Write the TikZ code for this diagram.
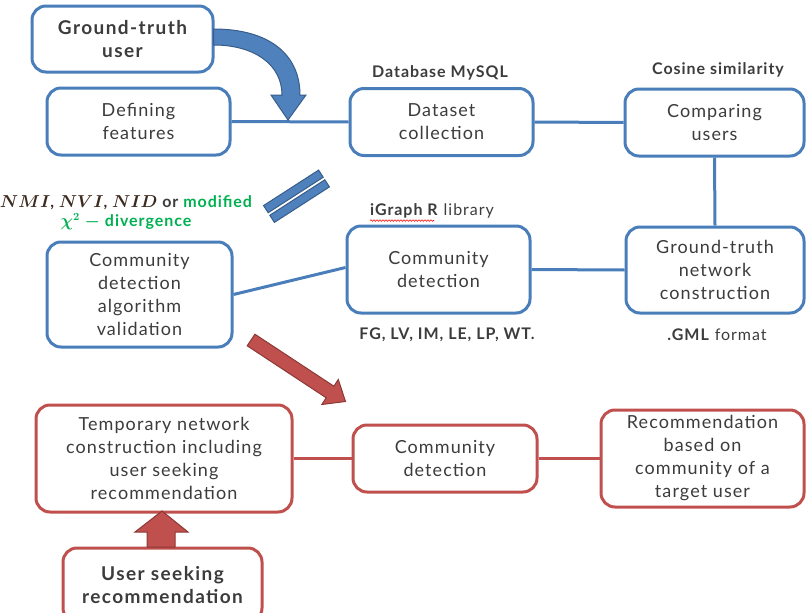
\documentclass[tikz,border=0pt]{standalone}
\usepackage{fontspec}
\setmainfont{Lato}[LetterSpace=6]
\usepackage{bm}
\usetikzlibrary{decorations.pathmorphing}
\definecolor{bl}{HTML}{4A7EBB}
\definecolor{blfill}{HTML}{4F81BD}
\definecolor{bldark}{HTML}{385D8A}
\definecolor{rd}{HTML}{C0504D}
\definecolor{rddark}{HTML}{8C3836}
\definecolor{txt}{HTML}{3C3C3C}
\definecolor{grn}{HTML}{00B050}
\definecolor{nmi}{HTML}{3D2B1F}
\newcommand{\bldbox}{\fontsize{19}{23}\selectfont\bfseries\addfontfeatures{LetterSpace=7.5}}
\tikzset{
  box/.style={draw, line width=3pt, rounded corners=14pt, fill=white, align=center,
    font=\fontsize{18}{23}\selectfont, text=txt, inner sep=2pt},
  bbox/.style={box, draw=bl},
  rbox/.style={box, draw=rd},
  bconn/.style={line width=3pt, draw=bl},
  rconn/.style={line width=3pt, draw=rd},
  lbl/.style={font=\fontsize{16}{18}\selectfont, text=txt, inner sep=0pt},
  blbl/.style={lbl, font=\fontsize{16}{18}\selectfont\bfseries},
  barrow/.style={fill=blfill, draw=bldark, line width=1pt},
  rarrow/.style={fill=rd, draw=rddark, line width=1pt},
}
\begin{document}
\begin{tikzpicture}[x=1pt,y=-1pt]
\useasboundingbox (0,0) rectangle (806,613);
% blue boxes
\node[bbox, minimum width=181pt, minimum height=66pt, font=\bldbox] (gtu) at (122.5,39) {Ground-truth\\user};
\node[bbox, minimum width=183pt, minimum height=67pt] (def) at (138.5,121.5) {Defining\\features};
\node[bbox, minimum width=183pt, minimum height=67pt] (dsc) at (441.5,122) {Dataset\\collection};
\node[bbox, minimum width=179pt, minimum height=67pt] (cmp) at (714.5,122.5) {Comparing\\users};
\node[bbox, minimum width=178pt, minimum height=86pt] (gtn) at (715,270) {Ground-truth\\network\\construction};
\node[bbox, minimum width=183pt, minimum height=87pt] (cd1) at (438.5,269.5) {Community\\detection};
\node[bbox, minimum width=185pt, minimum height=105pt] (val) at (139.5,294.5) {Community\\detection\\algorithm\\validation};
% red boxes
\node[rbox, minimum width=256pt, minimum height=107pt] (tmp) at (164,458.5) {Temporary network\\construction including\\user seeking\\recommendation};
\node[rbox, minimum width=184pt, minimum height=67pt] (cd2) at (445,458.5) {Community\\detection};
\node[rbox, minimum width=203pt, minimum height=97pt] (rec) at (702.5,458.5) {Recommendation\\based on\\community of a\\target user};
\node[rbox, minimum width=199pt, minimum height=74pt, font=\bldbox] (usr) at (162.5,585) {User seeking\\recommendation};
% connectors
\draw[bconn] (def.east) -- (dsc.west);
\draw[bconn] (dsc.east) -- (cmp.west);
\draw[bconn] (cmp.south) -- (gtn.north);
\draw[bconn] (gtn.west) -- (cd1.east);
\draw[bconn] (val.east) -- ([yshift=2pt]cd1.west);
\draw[rconn] (tmp.east) -- (cd2.west);
\draw[rconn] (cd2.east) -- (rec.west);
% labels
\node[blbl] (lmysql) at (440,73) {Database MySQL};
\node[blbl] (lcos) at (718,70) {Cosine similarity};
\node[lbl] (ligraph) at (432,211) {\textbf{iGraph R} library};
\coordinate (wa) at ([xshift=0pt,yshift=-2pt]ligraph.south west);
\coordinate (wb) at ([xshift=64pt,yshift=-2pt]ligraph.south west);
\draw[red, line width=0.6pt, decorate, decoration={snake, amplitude=0.8pt, segment length=3pt}] (wa) -- (wb);
\node[blbl] (lalg) at (447,335) {FG, LV, IM, LE, LP, WT.};
\node[lbl] (lgml) at (717,335) {\textbf{.GML} format};
\node[lbl, align=center, font=\fontsize{16}{19}\selectfont\bfseries] (lnmi) at (126,212.5)
  {\textcolor{nmi}{$\bm{NMI}$, $\bm{NVI}$, $\bm{NID}$} \textcolor{txt}{or} \textcolor{grn}{modified}\\
   \textcolor{grn}{$\bm{\chi^2}$ $\bm{-}$ divergence}};
% blue curved arrow
\draw[barrow] ([xshift=-1pt]gtu.east |- 0,29) .. controls (270,29) and (300,55) .. (300,95)
  -- (306,95) -- (288,120) -- (271,95) -- (282,95)
  .. controls (282,65) and (255,45) .. ([xshift=-1pt]gtu.east |- 0,45) -- cycle;
% double bar
\begin{scope}[shift={(296.5,196.25)}, rotate=32.8]
  \draw[barrow] (-32.75,-10) rectangle (32.75,-1.5);
  \draw[barrow] (-32.75,1.5) rectangle (32.75,10);
\end{scope}
% red diagonal arrow
\draw[rarrow] (254.9,334.2) -- (333.9,386.2) -- (338.3,379.5) -- (345.5,401.5)
  -- (321.8,404.5) -- (326.2,397.8) -- (247.2,345.8) -- cycle;
% red up arrow
\draw[rarrow] (147,547) -- (147,532) -- (135,532) -- (162,511) -- (188,532)
  -- (175,532) -- (175,547) -- cycle;
\end{tikzpicture}
\end{document}
